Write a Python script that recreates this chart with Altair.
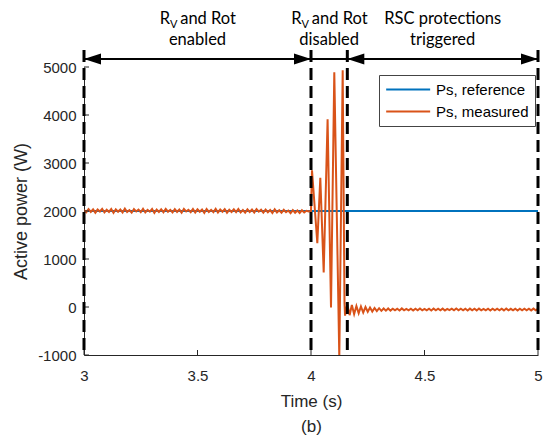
import altair as alt
import pandas as pd

# ---- data ----
ref_t = [3.0, 5.0]
ref_p = [2000, 2000]

pre_t0, pre_dt = 3.0, 0.01
pre_p = [2020, 1975, 2040, 1980, 2035, 1965, 2030, 1990, 2045, 1970,
         2025, 1980, 2040, 1960, 2035, 1985, 2030, 1970, 2050, 1980,
         2020, 1965, 2040, 1990, 2030, 1975, 2045, 1970, 2025, 1985,
         2040, 1960, 2030, 1980, 2035, 1975, 2045, 1985, 2025, 1970,
         2040, 1980, 2030, 1965, 2045, 1990, 2025, 1975, 2040, 1970,
         2035, 1985, 2030, 1960, 2040, 1980, 2025, 1975, 2045, 1970,
         2030, 1985, 2040, 1965, 2025, 1980, 2035, 1975, 2040, 1970,
         2020, 1965, 2035, 1980, 2030, 1970, 2040, 1985, 2025, 1965,
         2030, 1975, 2020, 1960, 2035, 1970, 2015, 1965, 2025, 1975,
         2010, 1955, 2020, 1965, 2010, 1960, 2015, 1970, 2005, 1990]

tr_t = [4.000, 4.0044, 4.0278, 4.0410, 4.0559, 4.0731, 4.0881, 4.1026, 4.1247, 4.1396, 4.1476]
tr_p = [2000, 2850, 1330, 2690, 720, 3910, -10, 4890, -1050, 4930, 80]

post_t0, post_dt = 4.15, 0.01
post_p = [-180, 60, -170, 40, -150, 20, -130, 10, -115, 0,
          -100, -10, -95, -20, -85, -25, -80, -30, -75, -30,
          -75, -35, -70, -35, -72, -30, -70, -38, -68, -35,
          -72, -35, -70, -32, -68, -38, -70, -35, -72, -33,
          -68, -36, -70, -34, -72, -38, -66, -35, -70, -32,
          -70, -37, -68, -35, -72, -34, -69, -36, -71, -33,
          -68, -38, -70, -35, -72, -34, -68, -37, -70, -35,
          -71, -33, -69, -38, -70, -35, -72, -34, -68, -36,
          -70, -35, -71, -34, -70, -36]

x_ticks = [3, 3.5, 4, 4.5, 5]
y_ticks = [-1000, 0, 1000, 2000, 3000, 4000, 5000]
events = [3.0, 4.0, 4.16, 5.0]
ann_x = [3.5, 4.08, 4.58]
ann_l2 = ["enabled", "disabled", "triggered"]
rv_x = [3.5, 4.08]
series = ["Ps, reference", "Ps, measured"]
colors = ["#0072BD", "#D95319"]

# ---- tables ----
meas_t = [round(pre_t0 + i * pre_dt, 4) for i in range(len(pre_p))] + tr_t + \
         [round(post_t0 + i * post_dt, 4) for i in range(len(post_p))]
meas_p = pre_p + tr_p + post_p
meas = pd.DataFrame({"t": meas_t, "p": meas_p, "s": series[1]})
meas["o"] = range(len(meas))
ref = pd.DataFrame({"t": ref_t, "p": ref_p, "s": series[0]})
ev = pd.DataFrame({"t": events})
ann = pd.DataFrame({"t": ann_x, "l2": ann_l2})
rv = pd.DataFrame({"t": rv_x})
rsc = pd.DataFrame({"t": [ann_x[2]], "l1": ["RSC protections"]})
xt = pd.DataFrame({"t": x_ticks})
yt = pd.DataFrame({"p": y_ticks})
heads = pd.DataFrame({"t": events, "d": ["L", "R", "L", "R"]})

FONT = "Arial"
AFONT = "Lato"
xs = alt.Scale(domain=[3, 5], nice=False, zero=False)
ys = alt.Scale(domain=[-1000, 5000], nice=False, zero=False)
cs = alt.Scale(domain=series, range=colors)

xax = alt.Axis(values=x_ticks, ticks=False, grid=False, labelExpr="'' + datum.value",
               labelFlush=False, labelOverlap=False,
               labelFontSize=15, labelFont=FONT, labelColor="#262626", labelPadding=13,
               domainColor="#262626", title=["Time (s)", "(b)"], titleFontSize=17,
               titleFont=FONT, titleColor="#262626", titleFontWeight="normal",
               titleLineHeight=25, titlePadding=10)
yax = alt.Axis(values=y_ticks, ticks=False, grid=False, labelExpr="'' + datum.value",
               labelFlush=False, labelOverlap=False,
               labelFontSize=15, labelFont=FONT, labelColor="#262626", labelPadding=8,
               domainColor="#262626", title="Active power (W)", titleFontSize=18,
               titleFont=FONT, titleColor="#262626", titleFontWeight="normal",
               titlePadding=7)

ref_line = alt.Chart(ref).mark_line(strokeWidth=2).encode(
    x=alt.X("t:Q", scale=xs, axis=xax),
    y=alt.Y("p:Q", scale=ys, axis=yax),
    color=alt.Color("s:N", scale=cs, legend=alt.Legend(
        title=None, orient="none", legendX=295, legendY=8, symbolType="M-1,0H5",
        symbolSize=215, symbolStrokeWidth=2, labelFontSize=15, labelFont=FONT,
        labelColor="#000000", labelOffset=34, padding=6, rowPadding=5,
        strokeColor="#444444", fillColor="white", labelLimit=200)),
)
meas_line = alt.Chart(meas).mark_line(strokeWidth=2, clip=True).encode(
    x="t:Q", y="p:Q", color=alt.Color("s:N", scale=cs), order="o:Q")

xtick = alt.Chart(xt).mark_rule(color="#262626", strokeWidth=1).encode(
    x="t:Q", y=alt.value(288), y2=alt.value(283))
ytick = alt.Chart(yt).mark_rule(color="#262626", strokeWidth=1).encode(
    y="p:Q", x=alt.value(0), x2=alt.value(5))

dash = alt.Chart(ev).mark_rule(color="black", strokeWidth=3, strokeDash=[12, 6]).encode(
    x="t:Q", y=alt.value(-17), y2=alt.value(288))
arrow = alt.Chart(ev).mark_rule(color="black", strokeWidth=1.5).encode(
    x=alt.datum(3), x2=alt.datum(5), y=alt.value(-8))
head_l = alt.Chart(heads[heads.d == "L"]).mark_point(
    shape="M0,0L2,-0.65L2,0.65Z", filled=True, color="black", size=289, opacity=1).encode(
    x="t:Q", y=alt.value(-8))
head_r = alt.Chart(heads[heads.d == "R"]).mark_point(
    shape="M0,0L-2,-0.65L-2,0.65Z", filled=True, color="black", size=289, opacity=1).encode(
    x="t:Q", y=alt.value(-8))

r_main = alt.Chart(rv).mark_text(font=AFONT, fontSize=16.5, color="black", baseline="alphabetic",
                                 align="left", dx=-37.8).encode(x="t:Q", y=alt.value(-43), text=alt.value("R"))
r_sub = alt.Chart(rv).mark_text(font=AFONT, fontSize=11, color="black", baseline="alphabetic",
                                align="left", dx=-27.6, dy=4).encode(x="t:Q", y=alt.value(-43), text=alt.value("V"))
r_rest = alt.Chart(rv).mark_text(font=AFONT, fontSize=16.5, color="black", baseline="alphabetic",
                                 align="left", dx=-17.3).encode(x="t:Q", y=alt.value(-43), text=alt.value("and Rot"))
t_rsc = alt.Chart(rsc).mark_text(font=AFONT, fontSize=16.5, color="black", baseline="alphabetic").encode(
    x="t:Q", y=alt.value(-43), text="l1:N")
t2 = alt.Chart(ann).mark_text(font=AFONT, fontSize=16.5, color="black", baseline="alphabetic").encode(
    x="t:Q", y=alt.value(-22), text="l2:N")

chart = alt.layer(ref_line, meas_line, xtick, ytick, dash, arrow, head_l, head_r,
                  r_main, r_sub, r_rest, t_rsc, t2).properties(
    width=454, height=288,
    padding={"left": 84, "top": 67, "right": 6, "bottom": 87},
    autosize=alt.AutoSizeParams(type="none"),
    background="white",
).configure_view(stroke=None)

chart.save("out.html", embed_options={"renderer": "svg", "actions": False})
